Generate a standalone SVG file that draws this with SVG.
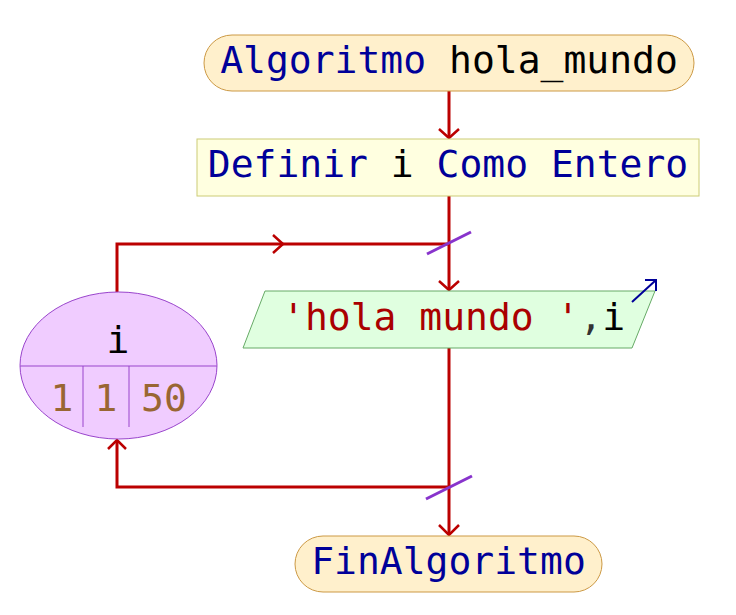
<svg xmlns="http://www.w3.org/2000/svg" width="736" height="615" viewBox="0 0 736 615">
<style>
text{font-family:"DejaVu Sans Mono","Liberation Mono",monospace;font-size:38px;}
.kw{fill:#000099}
.id{fill:#000000}
.str{fill:#aa0000}
.op{fill:#333333}
.num{fill:#996633}
.term{fill:#fff0cc;stroke:#cc9944;stroke-width:1}
.flow{fill:none;stroke:#bb0000;stroke-width:3}
.head{fill:none;stroke:#bb0000;stroke-width:2.5}
.slash{stroke:#8833cc;stroke-width:3}
</style>
<rect width="736" height="615" fill="#ffffff"/>
<g id="connectors">
  <path class="flow" d="M449 91 V137"/>
  <path class="head" d="M439 129 L449 138 L459 129"/>
  <path class="flow" d="M449 196 V289"/>
  <path class="head" d="M439 281 L449 290 L459 281"/>
  <path class="flow" d="M117 292 V244 H449"/>
  <path class="head" d="M273 235 L283 244 L273 253"/>
  <line class="slash" x1="427" y1="254" x2="471" y2="232"/>
  <path class="flow" d="M449 348 V534"/>
  <path class="head" d="M439 525 L449 535 L459 525"/>
  <path class="flow" d="M449 487 H117 V441"/>
  <path class="head" d="M108 449 L117 440 L126 449"/>
  <line class="slash" x1="426" y1="499" x2="472" y2="476"/>
</g>
<g id="start">
  <rect class="term" x="204" y="35" width="490" height="56" rx="28" ry="28"/>
  <text x="449" y="73" text-anchor="middle"><tspan class="kw">Algoritmo</tspan> <tspan class="id">hola_mundo</tspan></text>
</g>
<g id="define">
  <rect x="197" y="139" width="502" height="57" fill="#ffffe0" stroke="#cccc77" stroke-width="1"/>
  <text x="448" y="177" text-anchor="middle"><tspan class="kw">Definir</tspan> <tspan class="id">i</tspan> <tspan class="kw">Como Entero</tspan></text>
</g>
<g id="loop">
  <ellipse cx="118.5" cy="365.5" rx="98.5" ry="73.5" fill="#f0ccff" stroke="#9944cc" stroke-width="1"/>
  <line x1="20" y1="366" x2="217" y2="366" stroke="#9944cc" stroke-width="1"/>
  <line x1="83" y1="366" x2="83" y2="427" stroke="#9944cc" stroke-width="1"/>
  <line x1="129" y1="366" x2="129" y2="427" stroke="#9944cc" stroke-width="1"/>
  <text x="118" y="353" text-anchor="middle" class="id">i</text>
  <text x="62" y="411" text-anchor="middle" class="num">1</text>
  <text x="106" y="411" text-anchor="middle" class="num">1</text>
  <text x="164" y="411" text-anchor="middle" class="num">50</text>
</g>
<g id="output">
  <polygon points="265,291 655,291 632,348 243,348" fill="#e0ffe0" stroke="#66aa66" stroke-width="1"/>
  <text x="282" y="330"><tspan class="str">'hola mundo '</tspan><tspan class="op">,</tspan><tspan class="id">i</tspan></text>
  <path d="M632 302 L656 280 M645 280 H656 V291" fill="none" stroke="#000099" stroke-width="2"/>
</g>
<g id="end">
  <rect class="term" x="295" y="536" width="307" height="56" rx="28" ry="28"/>
  <text x="448.5" y="574" text-anchor="middle" class="kw">FinAlgoritmo</text>
</g>
</svg>
